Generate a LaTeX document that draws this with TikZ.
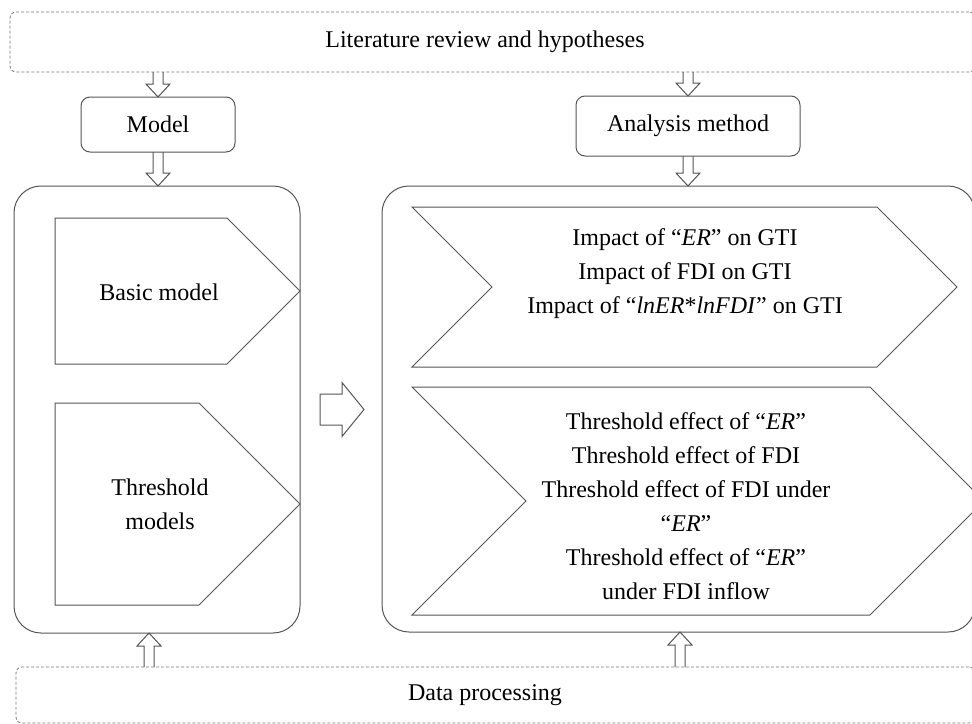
\documentclass[tikz,border=0pt]{standalone}
\usepackage{fontspec}
\setmainfont{Liberation Serif}
\usetikzlibrary{calc}

\definecolor{linegray}{HTML}{555555}

% hollow block arrow, vertical, from #1 to #2
\newcommand{\fatvert}[2]{%
  \draw[hollow] let \p1=#1, \p2=#2, \n1={sign(\y1-\y2)} in
    (\x1-5pt,\y1) -- (\x1-5pt,{\y2+\n1*13pt}) -- (\x1-12pt,{\y2+\n1*13pt}) -- (\x1,\y2)
    -- (\x1+12pt,{\y2+\n1*13pt}) -- (\x1+5pt,{\y2+\n1*13pt}) -- (\x1+5pt,\y1);}

\begin{document}
\begin{tikzpicture}[x=1pt, y=-1pt,
    every node/.style={font=\fontsize{24}{34}\selectfont, align=center, inner sep=0pt, outer sep=0pt},
    dashbox/.style={draw=linegray!80, line width=0.8pt, dash pattern=on 3pt off 2pt, rounded corners=6pt},
    roundbox/.style={draw=linegray, line width=1pt, rounded corners=9pt},
    bigbox/.style={draw=linegray, line width=1pt, rounded corners=27pt},
    panel/.style={draw=linegray, line width=1pt},
    hollow/.style={draw=linegray, line width=1pt}]
    \useasboundingbox (0,0) rectangle (972,723);
    \clip (0,0) rectangle (972,723);

    \node[dashbox, minimum width=965pt, minimum height=60pt] (lit) at (492.5,42) {};
    \node (littext) at (485,42) {Literature review and hypotheses};
    \node[roundbox, minimum width=154pt, minimum height=55pt] (model) at (158,124.5) {Model};
    \node[roundbox, minimum width=224pt, minimum height=60pt] (analysis) at (688,126) {Analysis method};
    \node[bigbox, minimum width=286pt, minimum height=447pt] (modelbox) at (157,409.5) {};
    \node[bigbox, minimum width=593pt, minimum height=446pt] (methodbox) at (678.5,409) {};
    \node[dashbox, minimum width=959pt, minimum height=56pt] (data) at (495.5,695) {};
    \node (datatext) at (485,695) {Data processing};

    % left panels
    \draw[panel] (55,218) -- (227,218) -- (300,291) -- (227,364) -- (55,364) -- cycle;
    \node (basic) at (159,292) {Basic model};
    \draw[panel] (55,403) -- (199,403) -- (300,504) -- (199,605) -- (55,605) -- cycle;
    \node (threshold) at (160,504) {Threshold\\models};

    % right panels
    \draw[panel] (412,207) -- (877,207) -- (957,287) -- (877,367) -- (412,367) -- (492,287) -- cycle;
    \node (impact) at (685,274) {Impact of “\textit{ER}” on GTI\\Impact of FDI on GTI\\Impact of “\textit{lnER}*\textit{lnFDI}” on GTI};
    \draw[panel] (412,387) -- (870,387) -- (984,501) -- (870,615) -- (412,615) -- (526,501) -- cycle;
    \node (effect) at (686,506) {Threshold effect of “\textit{ER}”\\Threshold effect of FDI\\Threshold effect of FDI under\\“\textit{ER}”\\Threshold effect of “\textit{ER}”\\under FDI inflow};

    \fatvert{(lit.south -| model.north)}{(model.north)}
    \fatvert{(model.south)}{(modelbox.north)}
    \fatvert{(lit.south -| analysis.north)}{(analysis.north)}
    \fatvert{(analysis.south)}{(methodbox.north)}
    \fatvert{($(data.north -| modelbox.south)+(-8,0)$)}{($(modelbox.south)+(-8,0)$)}
    \fatvert{($(data.north -| analysis.south)+(-8,0)$)}{($(methodbox.south -| analysis.south)+(-8,0)$)}

    \draw[hollow] let \p1=(modelbox.east), \p2=(methodbox.west) in
      (\x1+20pt,\y1+15.5pt) -- (\x1+42pt,\y1+15.5pt) -- (\x1+42pt,\y1+27pt) -- (\x2-18pt,\y1)
      -- (\x1+42pt,\y1-27pt) -- (\x1+42pt,\y1-15.5pt) -- (\x1+20pt,\y1-15.5pt) -- cycle;
  \end{tikzpicture}
\end{document}
